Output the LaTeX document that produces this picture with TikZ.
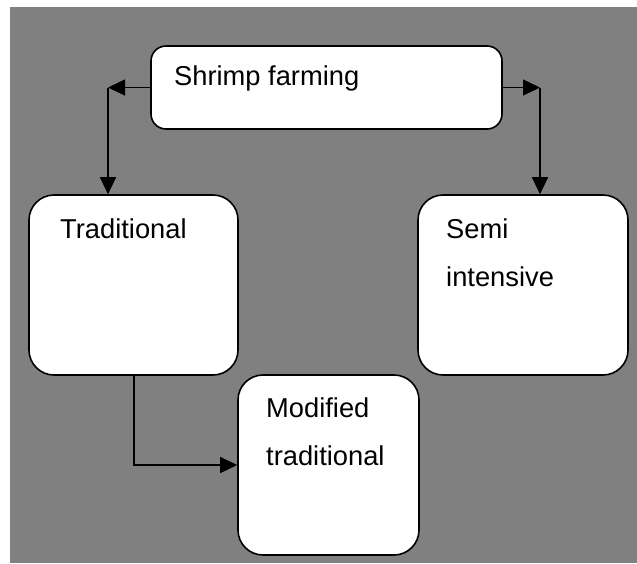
\documentclass[tikz,border=0pt]{standalone}
\usepackage{fontspec}
\setmainfont{Liberation Sans}
\usetikzlibrary{arrows.meta}
\definecolor{panelgray}{RGB}{128,128,128}
\begin{document}
\begin{tikzpicture}[x=1pt,y=-1pt,
  box/.style={draw=black, line width=1.6pt, fill=white, inner sep=0pt},
  label/.style={anchor=base west, inner sep=0pt, align=left,
    font=\fontsize{27.3}{48}\selectfont},
  arr/.style={draw=black, line width=1.4pt,
    -{Triangle[length=17pt,width=16pt]}}]
  % page and grey panel
  \useasboundingbox (0,0) rectangle (637,563);
  \fill[white] (0,0) rectangle (637,563);
  \fill[panelgray] (10,7) rectangle (637,563);

  % boxes
  \node[box, rounded corners=15pt, minimum width=351pt, minimum height=83pt] (shrimp) at (326.5,87.5) {};
  \node[box, rounded corners=25pt, minimum width=209pt, minimum height=180pt] (trad) at (133.5,285) {};
  \node[box, rounded corners=25pt, minimum width=210pt, minimum height=180pt] (semi) at (523,285) {};
  \node[box, rounded corners=25pt, minimum width=181pt, minimum height=180pt] (mod) at (328.5,465) {};

  % texts (base anchor sits on the last line)
  \node[label] (tshrimp) at (174,85) {Shrimp farming};
  \node[label] (ttrad) at (60,238) {Traditional};
  \node[label] (tsemi) at (446,286) {Semi\\intensive};
  \node[label] (tmod) at (266,465) {Modified\\traditional};

  % connectors
  \coordinate (lc) at (108,87.5);
  \coordinate (rc) at (540,87.5);
  \coordinate (bc) at (134,465);
  \draw[arr] (shrimp.west) -- (lc);
  \draw[arr] (lc) -- (lc |- trad.north);
  \draw[arr] (shrimp.east) -- (rc);
  \draw[arr] (rc) -- (rc |- semi.north);
  \draw[arr] (bc |- trad.south) -- (bc) -- (mod.west);
\end{tikzpicture}
\end{document}
